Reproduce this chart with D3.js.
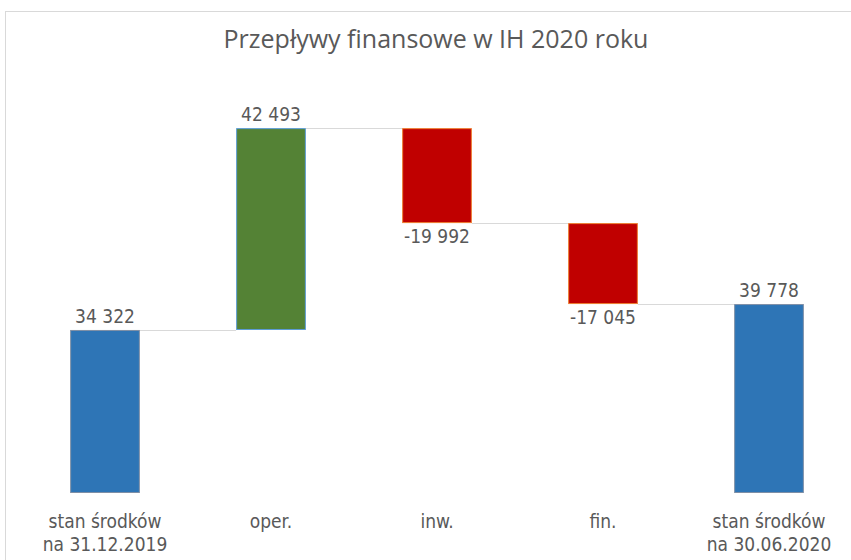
<!DOCTYPE html>
<html lang="pl">
<head>
<meta charset="utf-8">
<title>Przepływy finansowe</title>
<script src="https://cdn.jsdelivr.net/npm/d3@7"></script>
<style>
  body { margin: 0; background: #fff; }
  text { font-family: "DejaVu Sans Condensed", sans-serif; fill: #595959; }
</style>
</head>
<body>
<script>
var w = 851, h = 560;
var categories = ["start", "oper", "inw", "fin", "end"];
var labelLines = [["stan środków", "na 31.12.2019"], ["oper."], ["inw."], ["fin."], ["stan środków", "na 30.06.2020"]];
var values = [34322, 42493, -19992, -17045, 39778];
var kinds = ["total", "up", "down", "down", "total"];
var fills = { total: "#2E75B6", up: "#548235", down: "#C00000" };
var strokes = { total: "#7F8FA6", up: "#5B9BD5", down: "#ED7D31" };

// running sums for the floating bars
var bars = [], run = 0;
values.forEach(function (v, i) {
    var lo, hi;
    if (kinds[i] == "total") { lo = 0; hi = v; run = v; }
    else { lo = Math.min(run, run + v); hi = Math.max(run, run + v); run = run + v; }
    bars.push({ cat: categories[i], v: v, lo: lo, hi: hi, end: run, kind: kinds[i] });
});

var svg = d3.select("body").append("svg").attr("width", w).attr("height", h);

svg.append("rect").attr("x", 5.5).attr("y", 11.5).attr("width", 900).attr("height", 600)
   .attr("fill", "none").attr("stroke", "#D9D9D9");

svg.append("text").attr("x", 436).attr("y", 48).attr("text-anchor", "middle")
   .style("font-family", "'Open Sans', sans-serif")
   .attr("font-size", "25px").text("Przepływy finansowe w IH 2020 roku");

var x = d3.scaleBand().domain(categories).range([22, 852]).paddingInner(0.58).paddingOuter(0.29);
var y = d3.scaleLinear().domain([0, 80000]).range([493, 113]);

// connector lines
for (var i = 0; i < bars.length - 1; i++) {
    var lvl = bars[i].end;
    svg.append("line")
       .attr("x1", x(bars[i].cat) + x.bandwidth()).attr("x2", x(bars[i + 1].cat))
       .attr("y1", Math.round(y(lvl)) + 0.5).attr("y2", Math.round(y(lvl)) + 0.5)
       .attr("stroke", "#D9D9D9").attr("stroke-width", 1);
}

svg.selectAll("rect.bar").data(bars).enter().append("rect").attr("class", "bar")
   .attr("x", function (d) { return x(d.cat) + 0.5; })
   .attr("y", function (d) { return y(d.hi) + 0.5; })
   .attr("width", x.bandwidth() - 1)
   .attr("height", function (d) { return y(d.lo) - y(d.hi) - 1; })
   .attr("fill", function (d) { return fills[d.kind]; })
   .attr("stroke", function (d) { return strokes[d.kind]; });

var fmt = function (v) { return (v < 0 ? "-" : "") + d3.format(",")(Math.abs(v)).replace(/,/g, " "); };

svg.selectAll("text.val").data(bars).enter().append("text").attr("class", "val")
   .attr("x", function (d) { return x(d.cat) + x.bandwidth() / 2; })
   .attr("y", function (d) { return d.v < 0 ? y(d.lo) + 20 : y(d.hi) - 7; })
   .attr("text-anchor", "middle").attr("font-size", "19px")
   .text(function (d) { return fmt(d.v); });

var cl = svg.selectAll("text.cat").data(bars).enter().append("text").attr("class", "cat")
   .attr("x", function (d) { return x(d.cat) + x.bandwidth() / 2; })
   .attr("y", 528).attr("text-anchor", "middle").attr("font-size", "19px");
cl.selectAll("tspan").data(function (d, i) { return labelLines[i]; }).enter().append("tspan")
   .attr("x", function () { return d3.select(this.parentNode).attr("x"); })
   .attr("dy", function (d, j) { return j == 0 ? 0 : 23; })
   .text(function (d) { return d; });
</script>
</body>
</html>
